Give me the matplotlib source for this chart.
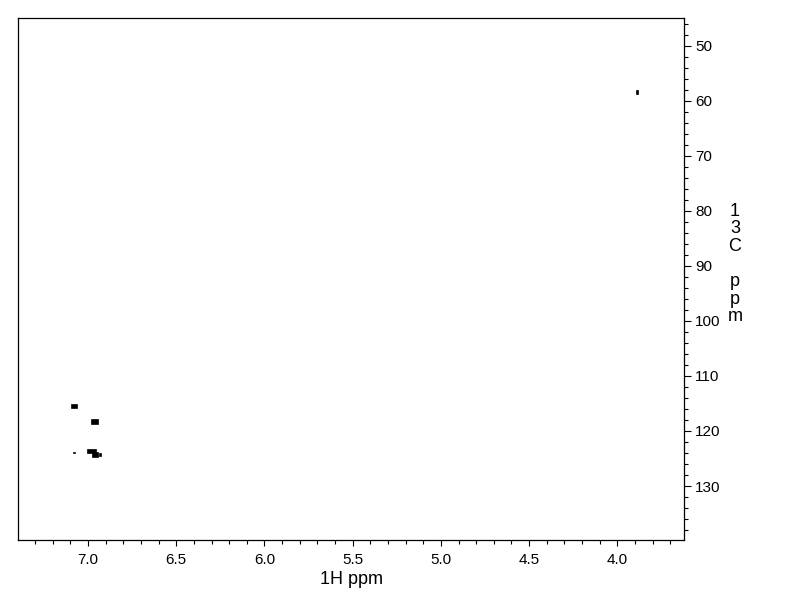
import matplotlib
matplotlib.use("Agg")
import matplotlib.pyplot as plt
from matplotlib.ticker import MultipleLocator

plt.rcParams["font.family"] = ["Liberation Sans", "DejaVu Sans"]

# Cross peaks: 1H shift, 13C shift, extent in 1H, extent in 13C (ppm)
peak_h = [7.079, 6.966, 7.080, 6.981, 6.960, 6.932, 3.889]
peak_c = [115.4, 118.3, 123.9, 123.7, 124.3, 124.3, 58.5]
peak_dh = [0.034, 0.040, 0.009, 0.052, 0.037, 0.012, 0.014]
peak_dc = [0.75, 0.85, 0.30, 0.75, 0.85, 0.55, 0.70]

x_range = (7.397, 3.622)
y_range = (45.0, 139.8)

fig = plt.figure(figsize=(7.92, 6.12), dpi=100)
ax = fig.add_axes([18 / 792, 72 / 612, 666 / 792, 522 / 612])

bottoms = [c - d / 2 for c, d in zip(peak_c, peak_dc)]
ax.bar(peak_h, peak_dc, width=peak_dh, bottom=bottoms, color="black",
       edgecolor="black", linewidth=0.5, align="center")

ax.set_xlim(*x_range)
ax.set_ylim(y_range[1], y_range[0])

ax.yaxis.tick_right()
ax.xaxis.set_major_locator(MultipleLocator(0.5))
ax.xaxis.set_minor_locator(MultipleLocator(0.1))
ax.yaxis.set_major_locator(MultipleLocator(10))
ax.yaxis.set_minor_locator(MultipleLocator(2))
ax.xaxis.set_major_formatter(plt.FormatStrFormatter("%.1f"))

ax.tick_params(axis="x", which="major", length=4, width=0.8, pad=5,
               labelsize=11, direction="out")
ax.tick_params(axis="x", which="minor", length=3, width=0.8, direction="out")
ax.tick_params(axis="y", which="major", length=5, width=0.8, pad=3,
               labelsize=11, direction="out")
ax.tick_params(axis="y", which="minor", length=3, width=0.8, direction="out")

for s in ax.spines.values():
    s.set_linewidth(0.9)

ax.set_xlabel("1H ppm", fontsize=13, labelpad=3)
fig.text(735 / 792, 1 - 264 / 612, "\n".join("13C ppm"), ha="center",
         va="center", fontsize=13, linespacing=1.05)

fig.savefig("out.png", dpi=100)
